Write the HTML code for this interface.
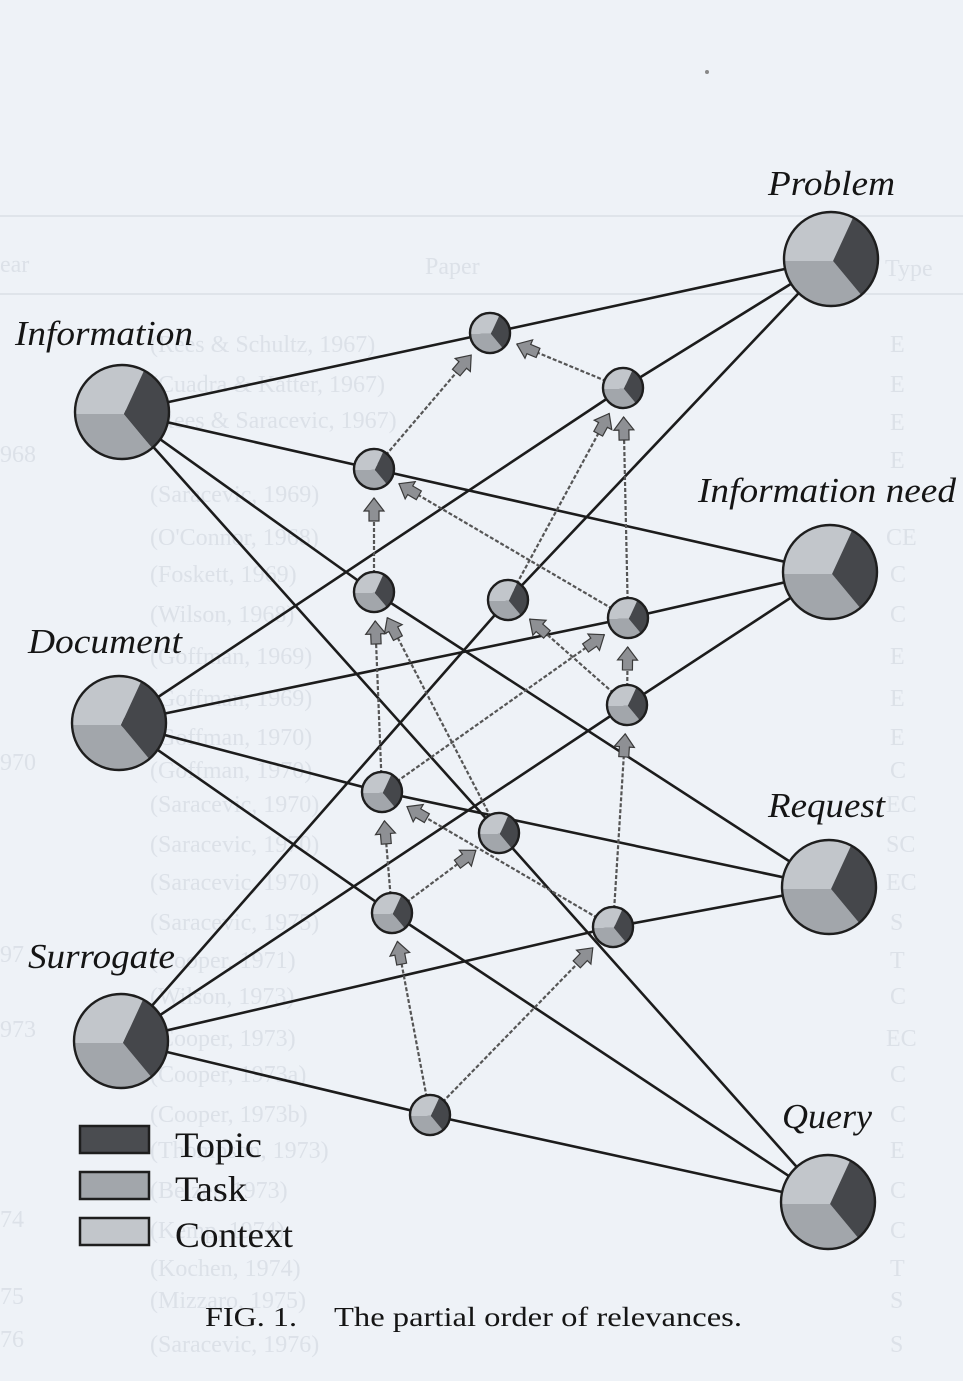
<!DOCTYPE html>
<html>
<head>
<meta charset="utf-8">
<style>
html,body{margin:0;padding:0;background:#eef2f7;}
svg{display:block;}
</style>
</head>
<body>
<svg width="963" height="1381" viewBox="0 0 963 1381" xmlns="http://www.w3.org/2000/svg">
<defs>
  <g id="pie">
    <path d="M2,2 L-46.96,2 A47,47 0 0 1 22.07,-41.5 Z" fill="#c2c6cb"/>
    <path d="M2,2 L30.2,36 A47,47 0 0 1 -46.96,2 Z" fill="#a2a6ab"/>
    <path d="M2,2 L22.07,-41.5 A47,47 0 0 1 30.2,36 Z" fill="#45474b"/>
    <circle cx="0" cy="0" r="47" fill="none" stroke="#1e1e1e" stroke-width="2.4" vector-effect="non-scaling-stroke"/>
  </g>
  <g id="arr">
    <polygon points="0,0 -13,-10 -13,-5 -23,-5 -23,5 -13,5 -13,10" fill="#8e9094" stroke="#3a3a3a" stroke-width="1.2"/>
  </g>
</defs>

<rect x="0" y="0" width="963" height="1381" fill="#eef2f7"/>

<!-- faint bleed-through -->
<g fill="#dce1e8" font-family="Liberation Serif, serif" font-size="24">
  <line x1="0" y1="216" x2="963" y2="216" stroke="#dfe4ea" stroke-width="2"/>
  <line x1="0" y1="294" x2="963" y2="294" stroke="#dfe4ea" stroke-width="2"/>
  <text x="0" y="272">ear</text>
  <text x="425" y="274">Paper</text>
  <text x="885" y="276">Type</text>
  <text x="0" y="462">968</text>
  <text x="0" y="770">970</text>
  <text x="0" y="962">97</text>
  <text x="0" y="1037">973</text>
  <text x="0" y="1227">74</text>
  <text x="0" y="1304">75</text>
  <text x="0" y="1347">76</text>
  <text x="150" y="352">(Rees &amp; Schultz, 1967)</text>
  <text x="150" y="392">(Cuadra &amp; Katter, 1967)</text>
  <text x="150" y="428">(Rees &amp; Saracevic, 1967)</text>
  <text x="150" y="502">(Saracevic, 1969)</text>
  <text x="150" y="545">(O'Connor, 1968)</text>
  <text x="150" y="582">(Foskett, 1969)</text>
  <text x="150" y="622">(Wilson, 1968)</text>
  <text x="150" y="664">(Goffman, 1969)</text>
  <text x="150" y="706">(Goffman, 1969)</text>
  <text x="150" y="745">(Goffman, 1970)</text>
  <text x="150" y="778">(Goffman, 1970)</text>
  <text x="150" y="812">(Saracevic, 1970)</text>
  <text x="150" y="852">(Saracevic, 1970)</text>
  <text x="150" y="890">(Saracevic, 1970)</text>
  <text x="150" y="930">(Saracevic, 1975)</text>
  <text x="150" y="968">(Cooper, 1971)</text>
  <text x="150" y="1004">(Wilson, 1973)</text>
  <text x="150" y="1046">(Cooper, 1973)</text>
  <text x="150" y="1082">(Cooper, 1973a)</text>
  <text x="150" y="1122">(Cooper, 1973b)</text>
  <text x="150" y="1158">(Thompson, 1973)</text>
  <text x="150" y="1198">(Belzer, 1973)</text>
  <text x="150" y="1238">(Kemp, 1974)</text>
  <text x="150" y="1276">(Kochen, 1974)</text>
  <text x="150" y="1308">(Mizzaro, 1975)</text>
  <text x="150" y="1352">(Saracevic, 1976)</text>
  <text x="890" y="352">E</text>
  <text x="890" y="392">E</text>
  <text x="890" y="430">E</text>
  <text x="890" y="468">E</text>
  <text x="886" y="545">CE</text>
  <text x="890" y="582">C</text>
  <text x="890" y="622">C</text>
  <text x="890" y="664">E</text>
  <text x="890" y="706">E</text>
  <text x="890" y="745">E</text>
  <text x="890" y="778">C</text>
  <text x="886" y="812">EC</text>
  <text x="886" y="852">SC</text>
  <text x="886" y="890">EC</text>
  <text x="890" y="930">S</text>
  <text x="890" y="968">T</text>
  <text x="890" y="1004">C</text>
  <text x="886" y="1046">EC</text>
  <text x="890" y="1082">C</text>
  <text x="890" y="1122">C</text>
  <text x="890" y="1158">E</text>
  <text x="890" y="1198">C</text>
  <text x="890" y="1238">C</text>
  <text x="890" y="1276">T</text>
  <text x="890" y="1308">S</text>
  <text x="890" y="1352">S</text>
</g>
<circle cx="707" cy="72" r="2" fill="#888"/>

<!-- solid connectors -->
<g stroke="#1c1c1c" stroke-width="2.6" fill="none" stroke-linecap="round">
  <line x1="122" y1="412" x2="490" y2="333"/>
  <line x1="122" y1="412" x2="374" y2="469"/>
  <line x1="122" y1="412" x2="374" y2="592"/>
  <line x1="122" y1="412" x2="499" y2="833"/>
  <line x1="119" y1="723" x2="623" y2="388"/>
  <line x1="119" y1="723" x2="628" y2="618"/>
  <line x1="119" y1="723" x2="382" y2="792"/>
  <line x1="119" y1="723" x2="392" y2="913"/>
  <line x1="121" y1="1041" x2="508" y2="600"/>
  <line x1="121" y1="1041" x2="627" y2="705"/>
  <line x1="121" y1="1041" x2="613" y2="927"/>
  <line x1="121" y1="1041" x2="430" y2="1115"/>
  <line x1="831" y1="259" x2="490" y2="333"/>
  <line x1="831" y1="259" x2="623" y2="388"/>
  <line x1="831" y1="259" x2="508" y2="600"/>
  <line x1="830" y1="572" x2="374" y2="469"/>
  <line x1="830" y1="572" x2="628" y2="618"/>
  <line x1="830" y1="572" x2="627" y2="705"/>
  <line x1="829" y1="887" x2="374" y2="592"/>
  <line x1="829" y1="887" x2="382" y2="792"/>
  <line x1="829" y1="887" x2="613" y2="927"/>
  <line x1="828" y1="1202" x2="499" y2="833"/>
  <line x1="828" y1="1202" x2="392" y2="913"/>
  <line x1="828" y1="1202" x2="430" y2="1115"/>
</g>

<!-- dashed order arrows -->
<g stroke="#555" stroke-width="2.2" fill="none" stroke-dasharray="4 2">
  <line x1="374" y1="469" x2="471.2" y2="355.1"/>
  <line x1="623" y1="388" x2="516.8" y2="344.1"/>
  <line x1="374" y1="592" x2="374" y2="498"/>
  <line x1="628" y1="618" x2="399" y2="483.7"/>
  <line x1="382" y1="792" x2="375.2" y2="621"/>
  <line x1="499" y1="833" x2="387.3" y2="617.7"/>
  <line x1="628" y1="618" x2="623.6" y2="417"/>
  <line x1="508" y1="600" x2="609.2" y2="413.5"/>
  <line x1="627" y1="705" x2="627.7" y2="647"/>
  <line x1="613" y1="927" x2="625.2" y2="733.9"/>
  <line x1="382" y1="792" x2="604.3" y2="634.7"/>
  <line x1="627" y1="705" x2="529.7" y2="619.2"/>
  <line x1="613" y1="927" x2="407" y2="806.6"/>
  <line x1="392" y1="913" x2="475.8" y2="850.4"/>
  <line x1="392" y1="913" x2="384.4" y2="820.9"/>
  <line x1="430" y1="1115" x2="397.4" y2="941.5"/>
  <line x1="430" y1="1115" x2="592.8" y2="947.8"/>
</g>
<g>
  <use href="#arr" transform="translate(471.2,355.1) rotate(-49.5)"/>
  <use href="#arr" transform="translate(516.8,344.1) rotate(-157.5)"/>
  <use href="#arr" transform="translate(374,498) rotate(-90)"/>
  <use href="#arr" transform="translate(399,483.7) rotate(-149.6)"/>
  <use href="#arr" transform="translate(375.2,621) rotate(-92.3)"/>
  <use href="#arr" transform="translate(387.3,617.7) rotate(-117.4)"/>
  <use href="#arr" transform="translate(623.6,417) rotate(-91.2)"/>
  <use href="#arr" transform="translate(609.2,413.5) rotate(-61.5)"/>
  <use href="#arr" transform="translate(627.7,647) rotate(-89.3)"/>
  <use href="#arr" transform="translate(625.2,733.9) rotate(-86.4)"/>
  <use href="#arr" transform="translate(604.3,634.7) rotate(-35.3)"/>
  <use href="#arr" transform="translate(529.7,619.2) rotate(-138.6)"/>
  <use href="#arr" transform="translate(407,806.6) rotate(-149.7)"/>
  <use href="#arr" transform="translate(475.8,850.4) rotate(-36.8)"/>
  <use href="#arr" transform="translate(384.4,820.9) rotate(-94.7)"/>
  <use href="#arr" transform="translate(397.4,941.5) rotate(-100.7)"/>
  <use href="#arr" transform="translate(592.8,947.8) rotate(-45.8)"/>
</g>

<!-- big nodes -->
<use href="#pie" transform="translate(122,412)"/>
<use href="#pie" transform="translate(119,723)"/>
<use href="#pie" transform="translate(121,1041)"/>
<use href="#pie" transform="translate(831,259)"/>
<use href="#pie" transform="translate(830,572)"/>
<use href="#pie" transform="translate(829,887)"/>
<use href="#pie" transform="translate(828,1202)"/>

<!-- small nodes -->
<use href="#pie" transform="translate(490,333) scale(0.426)"/>
<use href="#pie" transform="translate(374,469) scale(0.426)"/>
<use href="#pie" transform="translate(374,592) scale(0.426)"/>
<use href="#pie" transform="translate(499,833) scale(0.426)"/>
<use href="#pie" transform="translate(623,388) scale(0.426)"/>
<use href="#pie" transform="translate(628,618) scale(0.426)"/>
<use href="#pie" transform="translate(382,792) scale(0.426)"/>
<use href="#pie" transform="translate(392,913) scale(0.426)"/>
<use href="#pie" transform="translate(508,600) scale(0.426)"/>
<use href="#pie" transform="translate(627,705) scale(0.426)"/>
<use href="#pie" transform="translate(613,927) scale(0.426)"/>
<use href="#pie" transform="translate(430,1115) scale(0.426)"/>

<!-- node labels -->
<g font-family="Liberation Serif, serif" font-style="italic" font-size="35" fill="#151515">
  <text x="768" y="195" textLength="127" lengthAdjust="spacingAndGlyphs">Problem</text>
  <text x="698" y="502" textLength="258" lengthAdjust="spacingAndGlyphs">Information need</text>
  <text x="15" y="345" textLength="178" lengthAdjust="spacingAndGlyphs">Information</text>
  <text x="28" y="653" textLength="154" lengthAdjust="spacingAndGlyphs">Document</text>
  <text x="28" y="968" textLength="147" lengthAdjust="spacingAndGlyphs">Surrogate</text>
  <text x="768" y="817" textLength="117" lengthAdjust="spacingAndGlyphs">Request</text>
  <text x="782" y="1128" textLength="90" lengthAdjust="spacingAndGlyphs">Query</text>
</g>

<!-- legend -->
<g stroke="#1e1e1e" stroke-width="2.5">
  <rect x="80" y="1126" width="69" height="27" fill="#4a4c50"/>
  <rect x="80" y="1172" width="69" height="27" fill="#a2a6ab"/>
  <rect x="80" y="1218" width="69" height="27" fill="#c2c6cb"/>
</g>
<g font-family="Liberation Serif, serif" font-size="36" fill="#151515">
  <text x="175" y="1157" textLength="87" lengthAdjust="spacingAndGlyphs">Topic</text>
  <text x="175" y="1201" textLength="72" lengthAdjust="spacingAndGlyphs">Task</text>
  <text x="175" y="1247" textLength="118" lengthAdjust="spacingAndGlyphs">Context</text>
</g>

<!-- caption -->
<g font-family="Liberation Serif, serif" font-size="27" fill="#151515">
  <text x="205" y="1326" textLength="92" lengthAdjust="spacingAndGlyphs">FIG. 1.</text>
  <text x="334" y="1326" textLength="408" lengthAdjust="spacingAndGlyphs">The partial order of relevances.</text>
</g>
</svg>
</body>
</html>
